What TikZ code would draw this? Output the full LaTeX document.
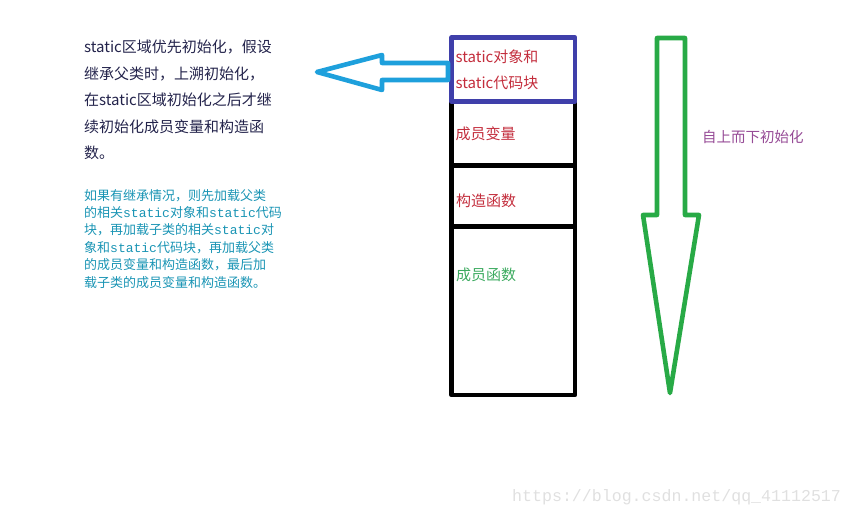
\documentclass[tikz,border=0pt]{standalone}
\usepackage{fontspec}
\newfontfamily\cjk{Noto Sans CJK SC}
\newfontfamily\mono{Liberation Mono}
\usepackage{tikz}
\usetikzlibrary{positioning}
\definecolor{navy}{RGB}{35,35,75}
\definecolor{teal}{RGB}{25,148,180}
\definecolor{redtext}{RGB}{195,45,60}
\definecolor{greentext}{RGB}{60,170,95}
\definecolor{purpletext}{RGB}{150,75,150}
\definecolor{boxblue}{RGB}{63,63,170}
\definecolor{arrowblue}{RGB}{30,160,220}
\definecolor{arrowgreen}{RGB}{40,170,70}
\newcommand{\st}{{\mono static}}

\begin{document}
\begin{tikzpicture}[x=1pt,y=-1pt,line join=round,node distance=0pt]
  \tikzstyle{part}=[draw=black,line width=4.6pt,minimum width=123.3pt,outer sep=0pt,
                    inner sep=4pt,text width=115.3pt,align=left,text=redtext,
                    font=\cjk\fontsize{15}{26}\selectfont]
  \tikzstyle{note}=[inner sep=0pt,align=left,anchor=north west]
  \tikzstyle{block}=[line width=4.6pt]
  \useasboundingbox (0,0) rectangle (852,518);

  % the stack of parts
  \node[part,draw=none,minimum height=64pt] (S) at (513.35,69.5) {static对象和\\static代码块};
  \node[part,minimum height=64pt]    (V) [below=of S] {成员变量};
  \node[part,minimum height=61pt]    (C) [below=of V] {};
  \node[part,minimum height=168.5pt] (M) [below=of C] {};
  \node[note,anchor=west,text=redtext,font=\cjk\fontsize{15}{26}\selectfont]
       (Ct) at (456,201) {构造函数};
  \node[note,anchor=west,text=greentext,font=\cjk\fontsize{15}{26}\selectfont]
       (Mt) at (456,275) {成员函数};
  \draw[block,draw=boxblue] (S.north west) rectangle (S.south east);

  % notes on the left
  \node[note,text=navy,font=\cjk\fontsize{15}{26.5}\selectfont] (T1) at (84,40)
       {static区域优先初始化，假设\\继承父类时，上溯初始化，\\在static区域初始化之后才继\\续初始化成员变量和构造函\\数。};
  \node[note,text=teal,font=\cjk\fontsize{13}{17.4}\selectfont] (T2) at (84,189)
       {如果有继承情况，则先加载父类\\的相关\st 对象和\st 代码\\块，再加载子类的相关\st 对\\象和\st 代码块，再加载父类\\的成员变量和构造函数，最后加\\载子类的成员变量和构造函数。};

  % block arrows
  \draw[block,draw=arrowblue] (448,63) -- (382,63) -- (382,55) -- (317,72)
       -- (382,90) -- (382,80) -- (448,80) -- cycle;
  \draw[block,draw=arrowgreen] (657,38) -- (685,38) -- (685,215) -- (699,215)
       -- (670,393) -- (643,215) -- (657,215) -- cycle;
  \node[note,anchor=west,text=purpletext,font=\cjk\fontsize{14.5}{20}\selectfont]
       (D) at (702,137) {自上而下初始化};

  % watermark
  \node[note,anchor=west,text=black!12,font=\mono\fontsize{16.6}{20}\selectfont]
       (W) at (512,497) {https://blog.csdn.net/qq\_41112517};
\end{tikzpicture}
\end{document}
